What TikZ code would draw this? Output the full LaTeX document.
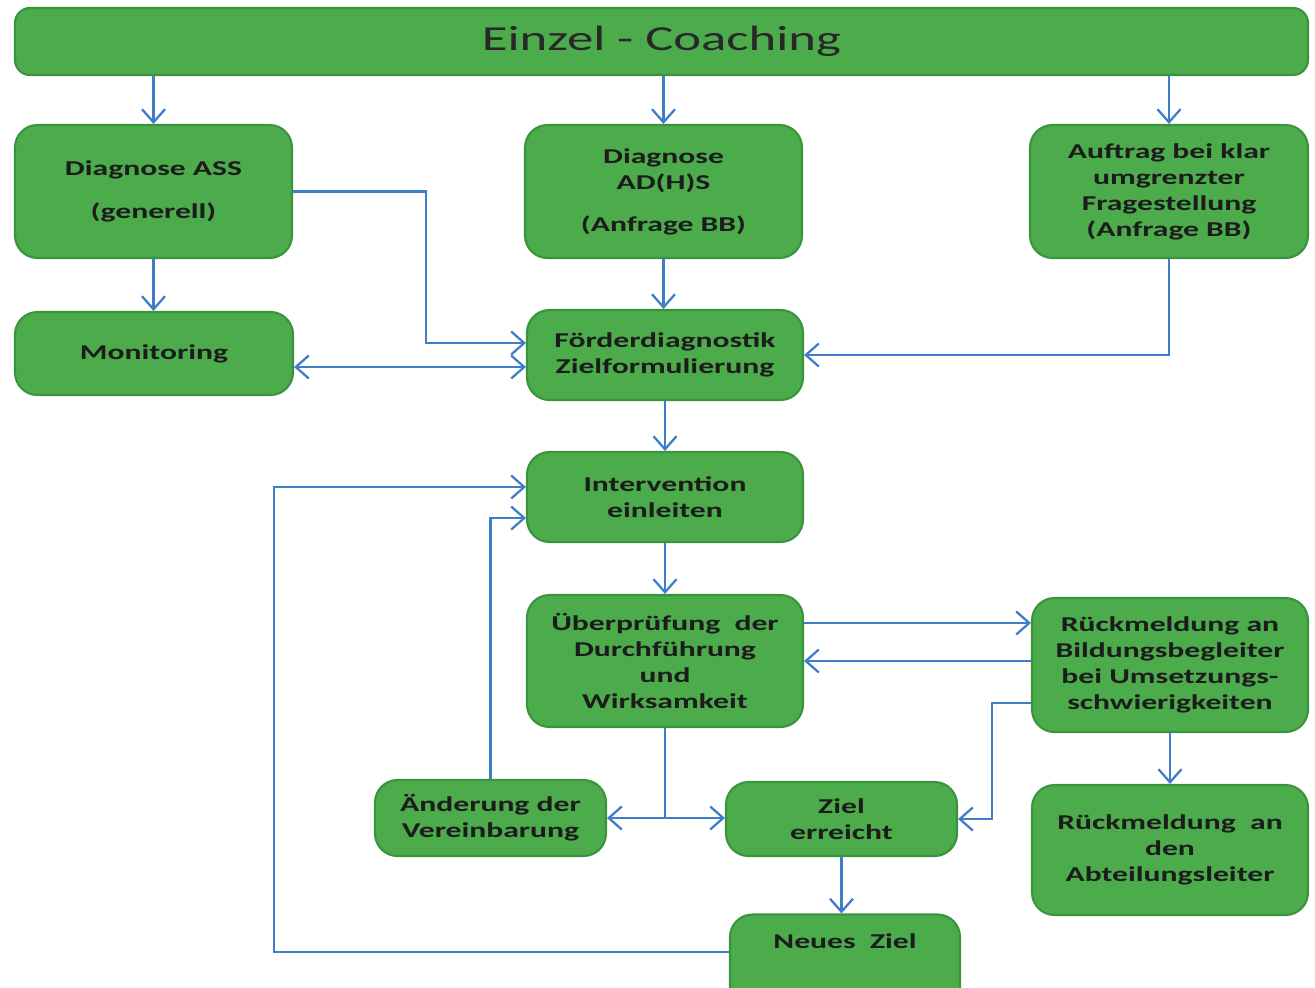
\documentclass[tikz,border=0pt]{standalone}
\usepackage{fontspec}
\setmainfont{Carlito}
\newfontfamily\boxfont{Carlito}[FakeStretch=1.5]
\newfontfamily\titlefont{Carlito}[FakeStretch=1.5]
\usetikzlibrary{arrows.meta}
\definecolor{boxgreen}{RGB}{76,172,76}
\definecolor{boxline}{RGB}{58,148,62}
\definecolor{linkblue}{RGB}{62,126,200}
\definecolor{boxtext}{RGB}{28,28,28}
\tikzset{
  box/.style={draw=boxline,line width=1.2pt,fill=boxgreen,rounded corners=0.45cm,
    align=center,text=boxtext,inner sep=0pt,
    font=\boxfont\bfseries\fontsize{12}{14.8}\selectfont},
  link/.style={draw=linkblue,line width=1.3pt,-{Straight Barb[length=0.26cm,width=0.46cm]}},
  linkboth/.style={link,{Straight Barb[length=0.26cm,width=0.46cm]}-{Straight Barb[length=0.26cm,width=0.46cm]}},
}
\begin{document}
\begin{tikzpicture}
         \useasboundingbox (0,0) rectangle (26.3,-19.74) ;
         % Kopfzeile
         \node[box,rounded corners=0.3cm,minimum width=25.86cm,minimum height=1.34cm,
               font=\titlefont\fontsize{20}{24}\selectfont,text={rgb,255:red,40;green,40;blue,40}]
               (title) at (13.23,-0.83) {Einzel - Coaching} ;
         % erste Reihe
         \node[box,minimum width=5.54cm,minimum height=2.66cm] (diagASS) at (3.07,-3.83)
               {Diagnose ASS\\[0.34cm](generell)} ;
         \node[box,minimum width=5.54cm,minimum height=2.66cm] (diagADHS) at (13.27,-3.83)
               {Diagnose\\AD(H)S\\[0.32cm](Anfrage BB)} ;
         \node[box,minimum width=5.56cm,minimum height=2.66cm] (auftrag) at (23.38,-3.83)
               {Auftrag bei klar\\umgrenzter\\Fragestellung\\(Anfrage BB)} ;
         % zweite Reihe
         \node[box,minimum width=5.56cm,minimum height=1.66cm] (monitoring) at (3.08,-7.07)
               {Monitoring} ;
         \node[box,minimum width=5.52cm,minimum height=1.80cm] (foerder) at (13.30,-7.10)
               {Förderdiagnostik\\Zielformulierung} ;
         \node[box,minimum width=5.52cm,minimum height=1.80cm] (intervention) at (13.30,-9.94)
               {Intervention\\einleiten} ;
         \node[box,minimum width=5.52cm,minimum height=2.64cm] (pruefung) at (13.30,-13.22)
               {Überprüfung~ der\\Durchführung\\und\\Wirksamkeit} ;
         \node[box,minimum width=5.52cm,minimum height=2.68cm] (rueckBB) at (23.40,-13.30)
               {Rückmeldung an\\Bildungsbegleiter\\bei Umsetzungs-\\schwierigkeiten} ;
         \node[box,minimum width=4.62cm,minimum height=1.52cm] (aenderung) at (9.81,-16.36)
               {Änderung der\\Vereinbarung} ;
         \node[box,minimum width=4.62cm,minimum height=1.48cm] (ziel) at (16.83,-16.38)
               {Ziel\\erreicht} ;
         \node[box,minimum width=5.52cm,minimum height=2.60cm] (rueckAL) at (23.40,-17.00)
               {Rückmeldung~ an\\den\\Abteilungsleiter} ;
         \node[box,minimum width=4.60cm,minimum height=1.90cm,text height=0.3cm,text depth=0.84cm]
               (neues) at (16.90,-19.24) {Neues~ Ziel} ;
         % Pfeile
         \draw[link] (diagASS.north |- title.south) -- (diagASS.north) ;
         \draw[link] (diagADHS.north |- title.south) -- (diagADHS.north) ;
         \draw[link] (auftrag.north |- title.south) -- (auftrag.north) ;
         \draw[link] (diagASS.south) -- (diagASS.south |- monitoring.north) ;
         \draw[link] (diagASS.east) -- ++(2.66,0) |- ([yshift=0.24cm]foerder.west) ;
         \draw[linkboth] ([yshift=-0.24cm]foerder.west -| monitoring.east)
               -- ([yshift=-0.24cm]foerder.west) ;
         \draw[link] (diagADHS.south) -- (diagADHS.south |- foerder.north) ;
         \draw[link] (auftrag.south) |- (foerder.east) ;
         \draw[link] (foerder) -- (intervention) ;
         \draw[link] (intervention) -- (pruefung) ;
         \draw[link] ([yshift=0.76cm]pruefung.east) -- ([yshift=0.76cm]pruefung.east -| rueckBB.west) ;
         \draw[link] (pruefung.east -| rueckBB.west) -- (pruefung.east) ;
         \draw[link] ([yshift=-0.76cm]rueckBB.west) -- ++(-0.78,0) |- (ziel.east) ;
         \coordinate (split) at (pruefung.south |- aenderung.east) ;
         \draw[draw=linkblue,line width=1.3pt] (pruefung.south) -- (split) ;
         \draw[link] (split) -- (aenderung.east) ;
         \draw[link] (split) -- (ziel.west |- split) ;
         \draw[link] (aenderung.north) |- ([yshift=-0.42cm]intervention.west) ;
         \draw[link] (ziel.south) -- (ziel.south |- neues.north) ;
         \draw[link] ([yshift=0.2cm]neues.west) -- ++(-9.1,0) |- ([yshift=0.2cm]intervention.west) ;
         \draw[link] (rueckBB) -- (rueckAL) ;
      \end{tikzpicture}
\end{document}
